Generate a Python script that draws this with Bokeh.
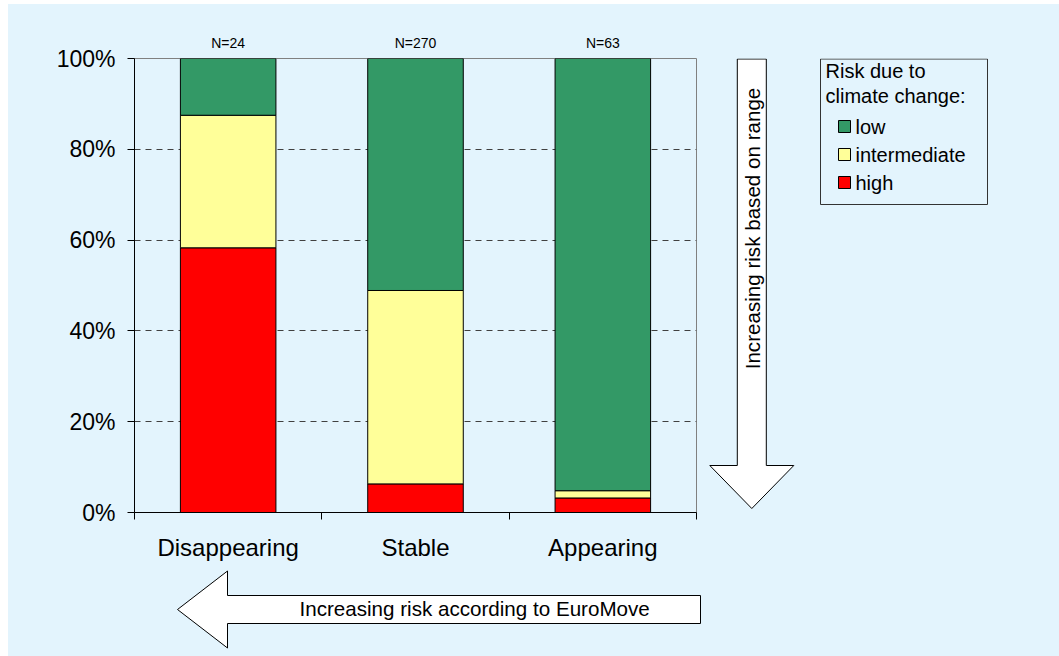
from bokeh.plotting import figure
from bokeh.layouts import column, row
from bokeh.models import (Range1d, FixedTicker, LinearAxis, PrintfTickFormatter,
                          Label, ColumnDataSource)
from bokeh.embed import file_html
from bokeh.resources import INLINE

# Share of species per range trend, by climate-change risk class (percent)
categories = ["Disappearing", "Stable", "Appearing"]
n_species = [24, 270, 63]
high = [58.3, 6.3, 3.2]
intermediate = [29.2, 42.6, 1.6]
low = [12.5, 51.1, 95.2]
percent_ticks = [0, 20, 40, 60, 80, 100]
risk_classes = ["low", "intermediate", "high"]

BG = "#E3F4FD"
GREEN = "#339966"
YELLOW = "#FFFF99"
RED = "#FF0000"
FONT = "Liberation Sans"

# borders of the chart panel (px)
BORDER_TOP, BORDER_BOTTOM = 54, 53

centers = [i + 0.5 for i in range(len(categories))]
bounds = [float(i) for i in range(len(categories) + 1)]

# ---------------- main stacked bar chart ----------------
p = figure(width=692, height=561,
           x_range=Range1d(0, len(categories)), y_range=Range1d(0, 100),
           output_backend="svg", toolbar_location=None,
           min_border_left=126, min_border_right=4,
           min_border_top=BORDER_TOP, min_border_bottom=BORDER_BOTTOM,
           background_fill_color=BG, border_fill_color=BG)
p.outline_line_color = "#808080"

src = ColumnDataSource(dict(x=centers, high=high, intermediate=intermediate, low=low))
p.vbar_stack(["high", "intermediate", "low"], x="x", width=0.51, source=src,
             fill_color=[RED, YELLOW, GREEN], line_color="black", line_width=1)

# y axis: percentages
yax = p.yaxis[0]
yax.ticker = FixedTicker(ticks=percent_ticks)
yax.formatter = PrintfTickFormatter(format="%d%%")
yax.major_tick_out = 7
yax.major_tick_in = 0
yax.minor_tick_line_color = None
yax.axis_line_color = "black"
yax.major_tick_line_color = "black"
yax.major_label_text_font = FONT
yax.major_label_text_font_size = "23px"
yax.major_label_text_color = "black"
yax.major_label_standoff = 12

# x axis: category names centred, tick marks at category boundaries
xax = p.xaxis[0]
xax.ticker = FixedTicker(ticks=centers, minor_ticks=bounds)
xax.major_label_overrides = {c: name for c, name in zip(centers, categories)}
xax.major_tick_line_color = None
xax.major_tick_out = 0
xax.major_tick_in = 0
xax.minor_tick_line_color = "black"
xax.minor_tick_out = 7
xax.minor_tick_in = 0
xax.axis_line_color = "black"
xax.major_label_text_font = FONT
xax.major_label_text_font_size = "24px"
xax.major_label_text_color = "black"
xax.major_label_standoff = 14

# sample sizes above the bars
top = LinearAxis(ticker=FixedTicker(ticks=centers),
                 major_label_overrides={c: f"N={n}" for c, n in zip(centers, n_species)})
top.axis_line_color = None
top.major_tick_line_color = None
top.minor_tick_line_color = None
top.major_tick_out = 0
top.major_label_text_font = FONT
top.major_label_text_font_size = "14px"
top.major_label_text_color = "black"
top.major_label_standoff = 8
p.add_layout(top, "above")

p.xgrid.grid_line_color = None
p.ygrid.ticker = FixedTicker(ticks=percent_ticks[1:-1])
p.ygrid.grid_line_color = "#404040"
p.ygrid.grid_line_dash = "6 5"
p.ygrid.grid_line_width = 1


def block_arrow(tail, tip, shaft_half, head_half, head_len, vertical):
    """Outline of a block arrow from tail to tip."""
    if vertical:
        cx = tail[0]
        y0, y1 = tail[1], tip[1]
        yh = y1 - head_len if y1 > y0 else y1 + head_len
        xs = [cx - shaft_half, cx + shaft_half, cx + shaft_half, cx + head_half,
              cx, cx - head_half, cx - shaft_half]
        ys = [y0, y0, yh, yh, y1, yh, yh]
    else:
        cy = tail[1]
        x0, x1 = tail[0], tip[0]
        xh = x1 + head_len if x1 < x0 else x1 - head_len
        xs = [x0, x0, xh, xh, x1, xh, xh]
        ys = [cy - shaft_half, cy + shaft_half, cy + shaft_half, cy + head_half,
              cy, cy - head_half, cy - shaft_half]
    return xs, ys


def blank_panel(width, height, x_range, y_range, **kw):
    f = figure(width=width, height=height, x_range=x_range, y_range=y_range,
               output_backend="svg", toolbar_location=None,
               x_axis_location=None, y_axis_location=None,
               background_fill_color=BG, border_fill_color=BG, **kw)
    f.outline_line_color = None
    f.grid.visible = False
    return f


# ---------------- right panel: range arrow + legend (page pixel coordinates) ----------------
side = blank_panel(359, 561, Range1d(700, 1059), Range1d(512, 58),
                   min_border_left=0, min_border_right=0,
                   min_border_top=BORDER_TOP, min_border_bottom=BORDER_BOTTOM)

vx, vy = block_arrow((751.3, 58.5), (751.3, 508), 14.5, 42, 43, True)
side.patch(vx, vy, fill_color="white", line_color="black", line_width=1)
side.add_layout(Label(x=752, y=228, text="Increasing risk based on range", angle=1.5708,
                      text_align="center", text_baseline="middle", text_font=FONT,
                      text_font_size="20.6px", text_color="black"))

# legend: frame, two-line heading, swatches and labels
side.quad(left=[820], right=[987], top=[58.5], bottom=[204],
          fill_color=BG, line_color="#333333", line_width=1)
side.add_layout(Label(x=825, y=70, text="Risk due to", text_align="left",
                      text_baseline="middle", text_font=FONT, text_font_size="20px",
                      text_color="black"))
side.add_layout(Label(x=825, y=95, text="climate change:", text_align="left",
                      text_baseline="middle", text_font=FONT, text_font_size="20px",
                      text_color="black"))

swatch_colors = {"low": GREEN, "intermediate": YELLOW, "high": RED}
row_y = [126 + 28 * i for i in range(len(risk_classes))]
side.rect(x=844, y=row_y, width=12, height=12,
          fill_color=[swatch_colors[n] for n in risk_classes],
          line_color="black", line_width=1)
side.text(x=855, y=row_y, text=risk_classes, text_baseline="middle",
          text_align="left", text_font_size="20px", text_color="black",
          text_font={"value": FONT})

# ---------------- bottom panel: EuroMove arrow (page pixel coordinates) ----------------
bottom = blank_panel(1051, 91, Range1d(8, 1059), Range1d(656, 565), min_border=0)
hx, hy = block_arrow((700, 609), (177, 609), 14, 38.5, 50, False)
bottom.patch(hx, hy, fill_color="white", line_color="black", line_width=1)
bottom.add_layout(Label(x=299, y=608, text="Increasing risk according to EuroMove",
                        text_align="left", text_baseline="middle", text_font=FONT,
                        text_font_size="20.6px", text_color="black"))

top_row = row(p, side, spacing=0)
top_row.styles = {"background-color": BG}
layout = column(top_row, bottom, spacing=0)
layout.styles = {"background-color": BG}
layout.margin = (4, 0, 0, 8)

open("out.html", "w").write(file_html(layout, INLINE))
